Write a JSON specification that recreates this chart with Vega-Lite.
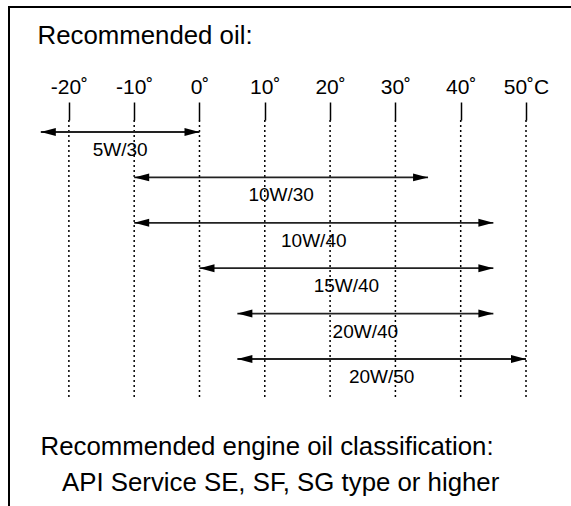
{
  "$schema": "https://vega.github.io/schema/vega-lite/v6.json",
  "width": 600,
  "height": 540,
  "autosize": {"type": "none"},
  "padding": {"left": 9, "top": 7, "right": 0, "bottom": 0},
  "background": "white",
  "config": {
    "view": {"stroke": "black", "strokeWidth": 2},
    "font": "Liberation Sans"
  },
  "datasets": {
    "oils": [
      {"oil": "5W/30", "row": 1, "lo": -24.3, "hi": 0},
      {"oil": "10W/30", "row": 2, "lo": -10, "hi": 35},
      {"oil": "10W/40", "row": 3, "lo": -10, "hi": 45},
      {"oil": "15W/40", "row": 4, "lo": 0, "hi": 45},
      {"oil": "20W/40", "row": 5, "lo": 5.8, "hi": 45},
      {"oil": "20W/50", "row": 6, "lo": 5.8, "hi": 50}
    ],
    "temps": [
      {"t": -20}, {"t": -10}, {"t": 0}, {"t": 10},
      {"t": 20}, {"t": 30}, {"t": 40}, {"t": 50}
    ]
  },
  "layer": [
    {
      "data": {"name": "temps"},
      "mark": {"type": "rule", "strokeDash": [2, 3], "strokeWidth": 1.5, "color": "black"},
      "encoding": {
        "x": {
          "field": "t",
          "type": "quantitative",
          "scale": {"domain": [-29.17, 62.71], "nice": false, "zero": false},
          "axis": {
            "orient": "top",
            "offset": -113,
            "values": [-20, -10, 0, 10, 20, 30, 40, 50],
            "labelExpr": "datum.value + (datum.value == 50 ? '˚C' : '˚')",
            "domain": false,
            "grid": false,
            "tickSize": 18,
            "tickWidth": 1.5,
            "tickColor": "black",
            "labelFontSize": 21,
            "labelColor": "black",
            "labelPadding": 5,
            "title": "Recommended oil:",
            "titleFontSize": 25.8,
            "titleFontWeight": "normal",
            "titleColor": "black",
            "titleAnchor": "start",
            "titleAlign": "left",
            "titleBaseline": "alphabetic",
            "titleX": 28,
            "titleY": -77
          }
        },
        "y": {"datum": 0.736, "type": "quantitative"},
        "y2": {"datum": 6.86}
      }
    },
    {
      "data": {"name": "oils"},
      "mark": {"type": "rule", "strokeWidth": 1.8, "color": "#222"},
      "encoding": {
        "x": {"field": "lo", "type": "quantitative"},
        "x2": {"field": "hi"},
        "y": {
          "field": "row",
          "type": "quantitative",
          "scale": {"domain": [-1.753, 10.141], "reverse": true, "nice": false, "zero": false},
          "axis": {
            "labels": false,
            "ticks": false,
            "domain": false,
            "grid": false,
            "title": ["Recommended engine oil classification:", "\u200b\u00a0\u00a0\u00a0API Service SE, SF, SG type or higher"],
            "titleAngle": 0,
            "titleAlign": "left",
            "titleBaseline": "alphabetic",
            "titleX": 31,
            "titleY": 447,
            "titleFontSize": 25.8,
            "titleFontWeight": "normal",
            "titleLineHeight": 36,
            "titleColor": "black"
          }
        }
      }
    },
    {
      "data": {"name": "oils"},
      "mark": {"type": "point", "shape": "M0,0L2,-0.53L2,0.53Z", "size": 225, "filled": true, "color": "black", "opacity": 1},
      "encoding": {
        "x": {"field": "lo", "type": "quantitative"},
        "y": {"field": "row", "type": "quantitative"}
      }
    },
    {
      "data": {"name": "oils"},
      "mark": {"type": "point", "shape": "M0,0L-2,-0.53L-2,0.53Z", "size": 225, "filled": true, "color": "black", "opacity": 1},
      "encoding": {
        "x": {"field": "hi", "type": "quantitative"},
        "y": {"field": "row", "type": "quantitative"}
      }
    },
    {
      "data": {"name": "oils"},
      "transform": [
        {"fold": ["lo", "hi"]},
        {"aggregate": [{"op": "mean", "field": "value", "as": "mid"}], "groupby": ["oil", "row"]}
      ],
      "mark": {"type": "text", "fontSize": 19, "dy": 18, "baseline": "middle", "align": "center", "color": "black"},
      "encoding": {
        "x": {"field": "mid", "type": "quantitative"},
        "y": {"field": "row", "type": "quantitative"},
        "text": {"field": "oil"}
      }
    }
  ]
}
